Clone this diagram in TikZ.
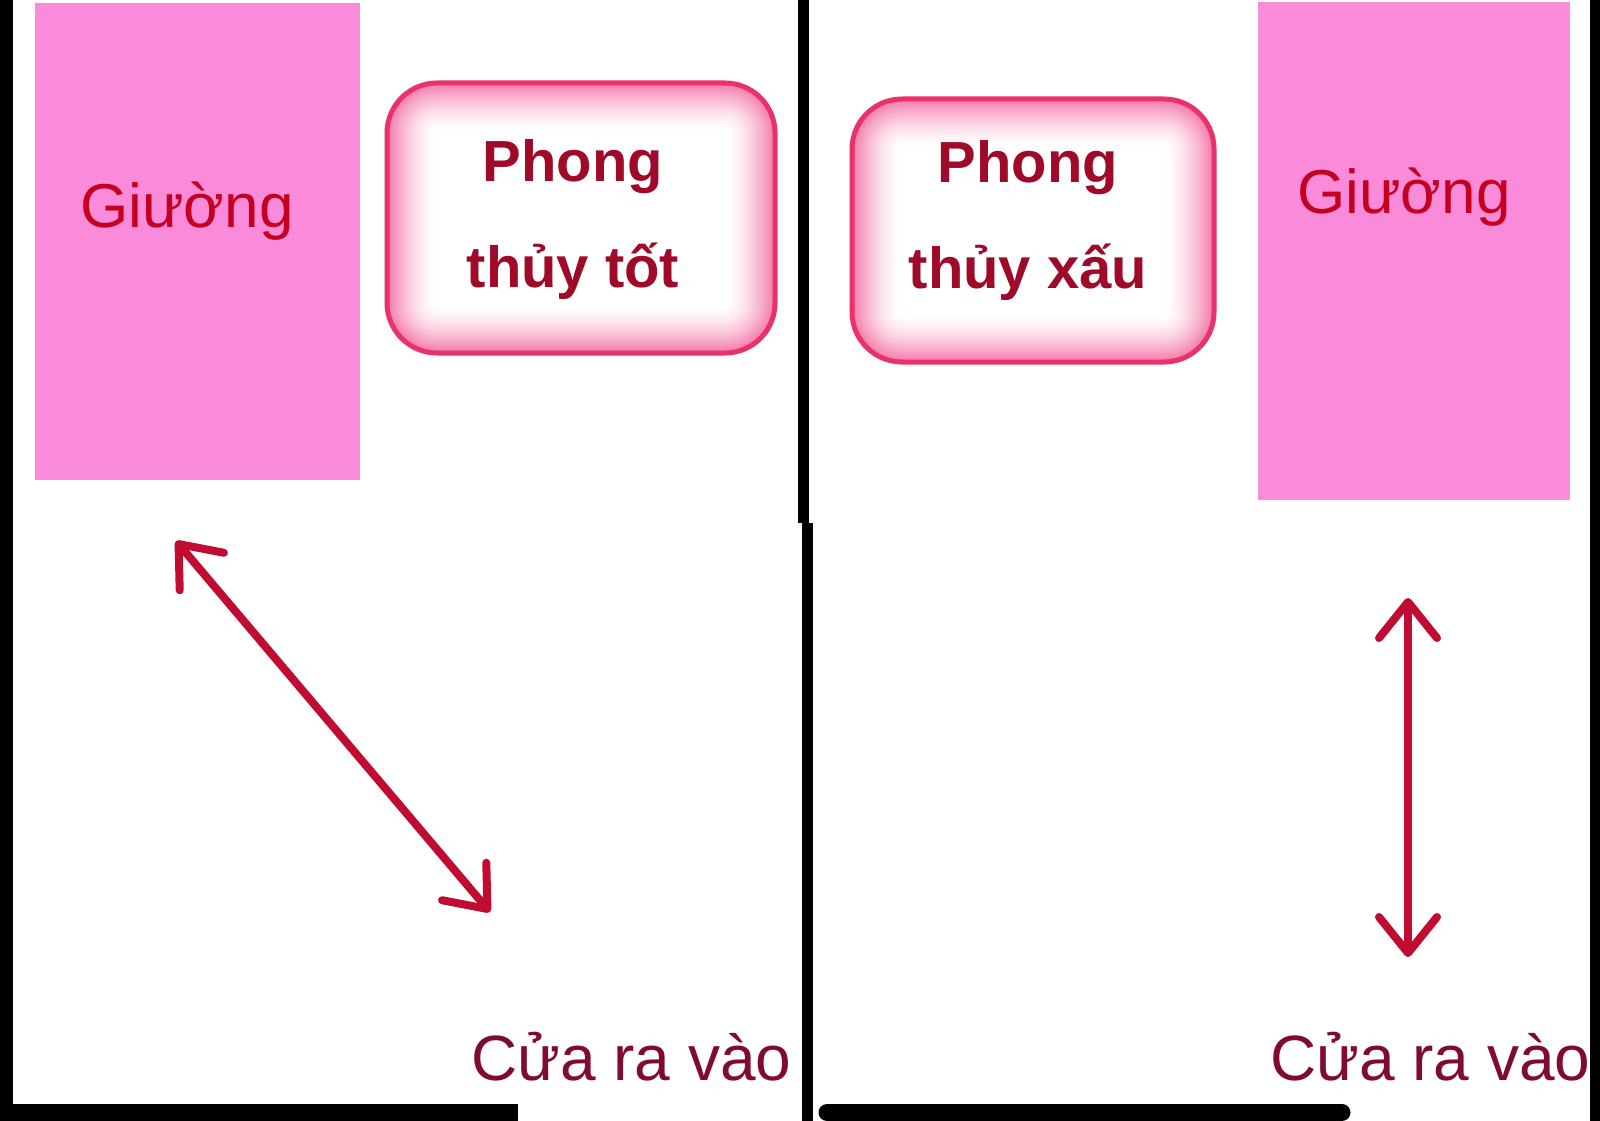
\documentclass[tikz,border=0pt]{standalone}
\usepackage{fontspec}
\setmainfont{Liberation Sans}
\usetikzlibrary{arrows.meta}
\definecolor{bedpink}{RGB}{250,138,218}
\definecolor{bedtext}{RGB}{196,0,30}
\definecolor{boxedge}{RGB}{232,50,105}
\definecolor{boxglow}{RGB}{240,90,150}
\definecolor{boxtext}{RGB}{158,10,40}
\definecolor{doortext}{RGB}{128,10,50}
\definecolor{arrowred}{RGB}{192,12,48}
\begin{document}
\begin{tikzpicture}[x=1pt,y=-1pt,
  wall/.style={line width=13pt, black},
  bed/.style={rectangle, fill=bedpink, inner sep=0pt},
  bedlabel/.style={text=bedtext, font=\fontsize{62}{70}\selectfont, inner sep=0pt},
  glowbox/.style={rectangle, rounded corners=50pt, draw=boxedge, line width=5pt, fill=white, inner sep=0pt,
    path picture={\foreach \i in {0,...,24}{
      \pgfmathsetmacro\w{100-4*\i}
      \pgfmathsetmacro\c{85*(1-\w/100)^1.6}
      \draw[line width=\w pt, draw=boxglow!\c!white, rounded corners=50pt]
        (path picture bounding box.south west) rectangle (path picture bounding box.north east);}}},
  boxlabel/.style={text=boxtext, font=\bfseries\fontsize{58}{106}\selectfont, align=center, inner sep=0pt},
  doorlabel/.style={text=doortext, font=\fontsize{64}{70}\selectfont, inner sep=0pt},
  arr/.style={draw=arrowred, line width=8pt,
    {Straight Barb[round,length=36pt,width=58pt]}-{Straight Barb[round,length=36pt,width=58pt]}}
]
\useasboundingbox (0,0) rectangle (1600,1121);
\fill[white] (0,0) rectangle (1600,1121);

% walls
\draw[wall] (6.5,0) -- (6.5,1121);
\draw[line width=11pt] (803.5,0) -- (803.5,523);
\draw[line width=11pt] (807.5,523) -- (807.5,1121);
\draw[line width=10pt] (1595,0) -- (1595,1121);
\draw[line width=17pt] (0,1112.5) -- (518,1112.5);
\draw[line width=17pt, line cap=round] (827,1112.5) -- (1342,1112.5);

% left room
\node[bed, minimum width=325pt, minimum height=477pt] (bedL) at (197.5,241.5) {};
\node[bedlabel, anchor=base] (bedLtext) at (187,227) {Giường};
\node[glowbox, minimum width=388pt, minimum height=270pt] (good) at (581,218) {};
\node[boxlabel] (goodtext) at (573,220) {Phong\\thủy tốt};
\node[doorlabel, anchor=base west] (doorL) at (471,1080) {Cửa ra vào};
\coordinate (l1) at (176,541);
\coordinate (l2) at (490,912);
\draw[arr] (l1) -- (l2);

% right room
\node[bed, minimum width=312pt, minimum height=498pt] (bedR) at (1414,251) {};
\node[bedlabel, anchor=base] (bedRtext) at (1404,213) {Giường};
\node[glowbox, minimum width=362pt, minimum height=263pt] (bad) at (1033,230.5) {};
\node[boxlabel] (badtext) at (1028,221) {Phong\\thủy xấu};
\node[doorlabel, anchor=base west] (doorR) at (1270,1080) {Cửa ra vào};
\coordinate (r1) at (1408,598);
\coordinate (r2) at (1408,957);
\draw[arr] (r1) -- (r2);
\end{tikzpicture}
\end{document}
